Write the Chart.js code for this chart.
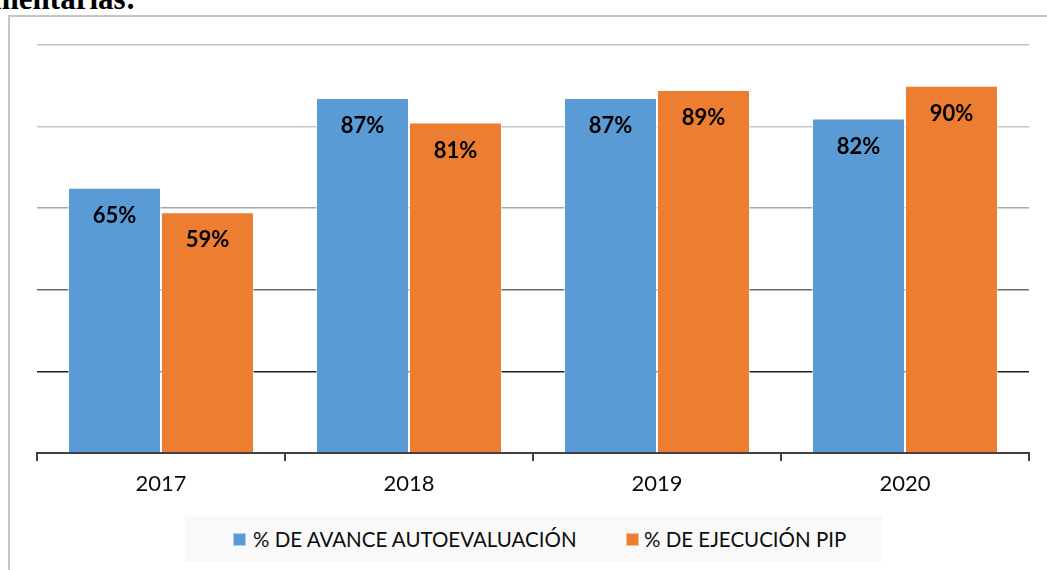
<!DOCTYPE html>
<html>
<head>
<meta charset="utf-8">
<script src="https://cdn.jsdelivr.net/npm/chart.js@4/dist/chart.umd.min.js"></script>
<style>
    html, body { margin: 0; padding: 0; background: #fff; }
    #wrap { position: relative; width: 1047px; height: 570px; overflow: hidden; }
    #titulo {
        position: absolute; left: -7px; top: -16px;
        font: bold 31px "Liberation Serif", "Times New Roman", serif;
        line-height: 30px; color: #000; white-space: nowrap;
    }
    #marco {
        position: absolute; left: 8px; top: 15px; width: 1100px; height: 600px;
        border: 2px solid #c6c6c6; box-sizing: border-box;
    }
    #myChart { position: absolute; left: 0; top: 0; }
    #leyenda {
        position: absolute; left: 185px; top: 516px; width: 697px; height: 46px;
        background: #f9f9f9;
    }
    .item { position: absolute; top: 0; height: 46px; font: 20.5px Lato, sans-serif; color: #0d0d0d; white-space: nowrap; }
    .caja { position: absolute; top: 17px; width: 13px; height: 13px; }
    .texto { position: absolute; top: 10px; line-height: 26px; }
</style>
</head>
<body>
<div id="wrap">
    <div id="titulo">mentarias:</div>
    <div id="marco"></div>
    <canvas id="myChart" width="1047" height="570"></canvas>
    <div id="leyenda"></div>
</div>
<script>
const years = ["2017", "2018", "2019", "2020"];
const seriesNames = ["% DE AVANCE AUTOEVALUACIÓN", "% DE EJECUCIÓN PIP"];
const avance = [65, 87, 87, 82];
const ejecucion = [59, 81, 89, 90];
const colores = ["#5b9bd5", "#ed7d31"];

// colores de las lineas de cuadricula (la imagen original las tiene mas oscuras abajo)
function gridColor(ctx) {
    const v = ctx.tick ? ctx.tick.value : 0;
    if (v === 0) return "rgba(0,0,0,0)";
    if (v === 20) return "#1f1f1f";
    if (v === 40) return "#6a6a6a";
    if (v === 60) return "#a8a8a8";
    return "#c4c4c4";
}

const etiquetas = {
    id: "etiquetas",
    afterDatasetsDraw(chart) {
        const ctx = chart.ctx;
        ctx.save();
        ctx.font = "bold 22px Lato, sans-serif";
        ctx.fillStyle = "#000";
        ctx.textAlign = "center";
        ctx.textBaseline = "middle";
        chart.data.datasets.forEach((ds, i) => {
            chart.getDatasetMeta(i).data.forEach((bar, j) => {
                ctx.fillText(ds.data[j] + "%", bar.x, bar.y + 28);
            });
        });
        ctx.restore();
    },
};

const config = {
    type: "bar",
    data: {
        labels: years,
        datasets: [
            {
                label: seriesNames[0],
                data: avance,
                backgroundColor: colores[0],
                borderColor: "rgba(255,255,255,0.55)",
                borderWidth: 1,
            },
            {
                label: seriesNames[1],
                data: ejecucion,
                backgroundColor: colores[1],
                borderColor: "rgba(255,255,255,0.55)",
                borderWidth: 1,
            },
        ],
    },
    options: {
        responsive: false,
        animation: false,
        layout: {
            padding: { left: 37, right: 18, top: 45, bottom: 77 },
        },
        datasets: {
            bar: { categoryPercentage: 0.75, barPercentage: 1 },
        },
        plugins: {
            legend: { display: false },
            tooltip: { enabled: false },
        },
        scales: {
            x: {
                afterFit: (scale) => { scale.height = 40; },
                grid: {
                    offset: true,
                    drawOnChartArea: false,
                    drawTicks: true,
                    tickLength: 8,
                    color: "#404040",
                    lineWidth: 2,
                },
                border: { display: true, color: "#404040", width: 2 },
                ticks: {
                    padding: 10,
                    color: "#0d0d0d",
                    font: { family: "Lato", size: 22 },
                },
            },
            y: {
                min: 0,
                max: 100,
                afterFit: (scale) => { scale.width = 0; },
                ticks: { stepSize: 20, display: false },
                grid: { color: gridColor, lineWidth: 1.5, drawTicks: false },
                border: { display: false },
            },
        },
    },
    plugins: [etiquetas],
};

var myChart = new Chart(document.getElementById("myChart"), config);

// leyenda en html, posiciones tomadas de la imagen
const leyenda = document.getElementById("leyenda");
const posCaja = [48, 441];
const posTexto = [68, 459];
seriesNames.forEach((nombre, i) => {
    const item = document.createElement("div");
    item.className = "item";
    item.style.left = "0px";
    item.innerHTML =
        '<div class="caja" style="left:' + posCaja[i] + "px;background:" + colores[i] +
        ';border:1px solid rgba(255,255,255,0.5);box-sizing:border-box"></div>' +
        '<div class="texto" style="left:' + posTexto[i] + 'px">' + nombre + "</div>";
    leyenda.appendChild(item);
});
</script>
</body>
</html>
